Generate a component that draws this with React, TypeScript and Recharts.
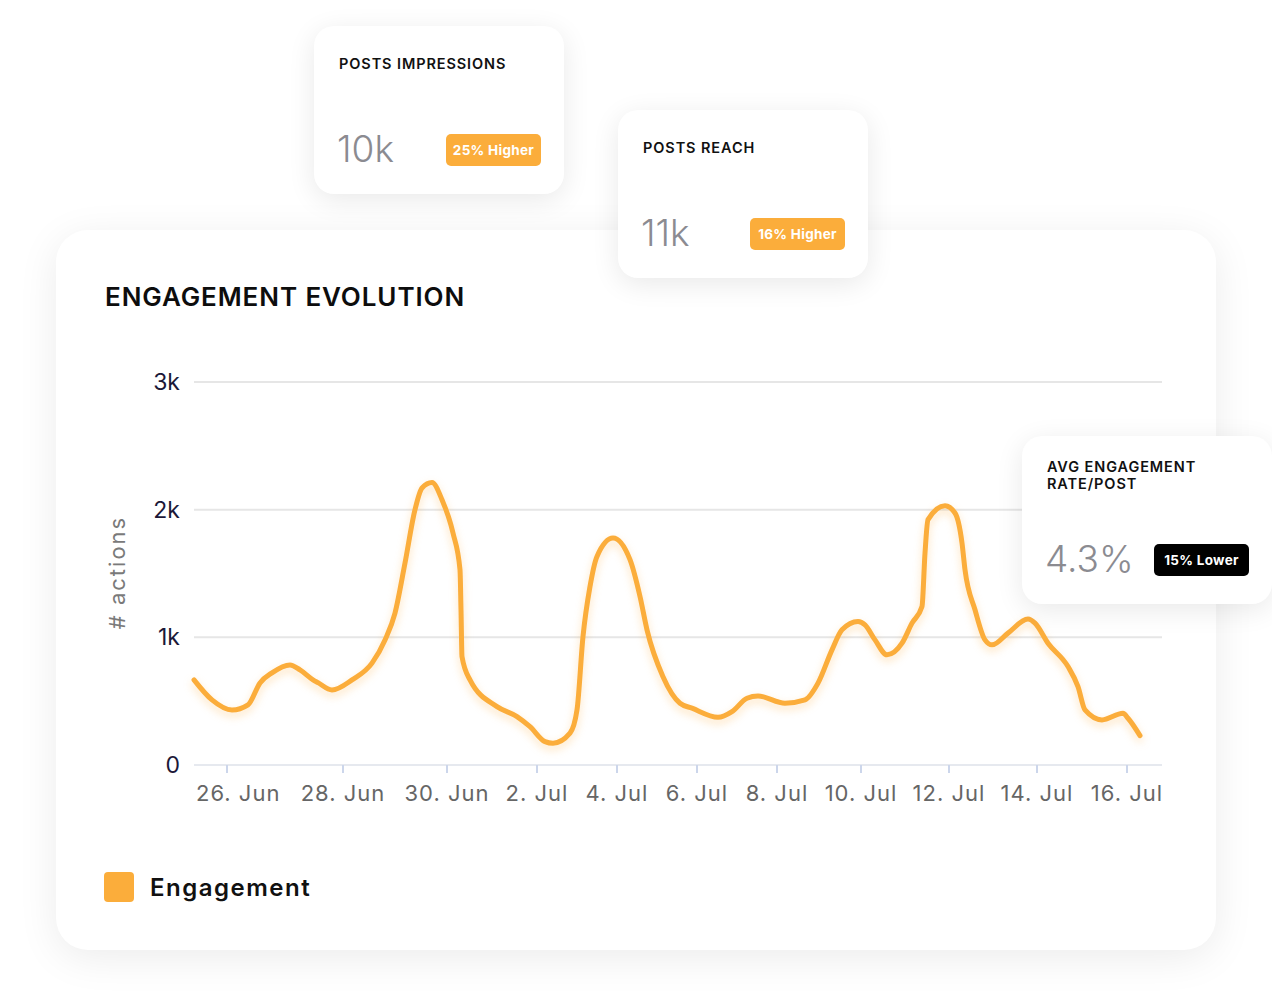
import React from "react";
import {
  CartesianGrid,
  Legend,
  Line,
  LineChart,
  XAxis,
  YAxis,
} from "recharts";

// position along the time axis (axis units) and engagement value
const positions = [
  0, 18, 38, 54, 66, 78, 96, 106, 119, 124, 138, 158, 178, 191, 201, 211, 221,
  228, 238, 248, 259, 266, 267, 268, 276, 303, 323, 336, 351, 359, 376, 383,
  389, 396, 403, 419, 436, 446, 453, 469, 486, 498, 524, 538, 553, 564, 591,
  611, 624, 638, 648, 664, 671, 681, 693, 708, 718, 728, 731, 734, 751, 761,
  768, 771, 781, 791, 798, 814, 834, 841, 854, 874, 884, 891, 908, 929, 934,
  946,
];
const engagement = [
  667, 510, 431, 471, 643, 722, 784, 745, 667, 645, 588, 667, 798, 980, 1190,
  1582, 2000, 2170, 2212, 2078, 1817, 1529, 1216, 849, 667, 457, 379, 300, 183,
  170, 249, 431, 1006, 1398, 1634, 1778, 1608, 1320, 1059, 692, 484, 445, 374,
  418, 523, 541, 484, 510, 641, 902, 1059, 1124, 1098, 980, 863, 954, 1111,
  1241, 1660, 1922, 2031, 1974, 1739, 1529, 1216, 980, 941, 1033, 1143, 1111,
  954, 771, 614, 431, 353, 405, 366, 230,
];

const dateTicks = [33, 149, 253, 343, 423, 503, 583, 667, 755, 843, 933];
const dateLabels = [
  "26. Jun",
  "28. Jun",
  "30. Jun",
  "2. Jul",
  "4. Jul",
  "6. Jul",
  "8. Jul",
  "10. Jul",
  "12. Jul",
  "14. Jul",
  "16. Jul",
];
const valueTicks = [0, 1000, 2000, 3000];

const kpiTitles = ["POSTS IMPRESSIONS", "POSTS REACH", "AVG ENGAGEMENT RATE/POST"];
const kpiValues = ["10k", "11k", "4.3%"];
const kpiBadges = ["25% Higher", "16% Higher", "15% Lower"];

const data = positions.map((t, i) => ({ t, engagement: engagement[i] }));

const ORANGE = "#fbad3b";
const FONT = "Inter, 'Noto Sans', sans-serif";

function DateTick(props: any) {
  const { x, y, payload, index } = props;
  const label = dateLabels[dateTicks.indexOf(payload.value)];
  // first label is pushed right so it does not stick out past the plot
  const first = index === 0;
  return (
    <text
      x={first ? x - 31 : x}
      y={y}
      dy="0.74em"
      textAnchor={first ? "start" : "middle"}
      fill="#666666"
      fontSize={22}
      letterSpacing={1}
      fontFamily={FONT}
    >
      {label}
    </text>
  );
}

function ActionsLabel(props: any) {
  const { viewBox } = props;
  const cx = viewBox.x - 17;
  const cy = viewBox.y + viewBox.height / 2 - 1;
  return (
    <text
      x={cx}
      y={cy}
      transform={`rotate(-90 ${cx} ${cy})`}
      textAnchor="middle"
      dominantBaseline="central"
      fill="#7a7a7a"
      fontSize={22}
      letterSpacing={2}
      fontFamily={FONT}
    >
      # actions
    </text>
  );
}

function LegendContent() {
  return (
    <div style={{ display: "flex", alignItems: "center", fontFamily: FONT }}>
      <div
        style={{
          width: 30,
          height: 30,
          borderRadius: 4,
          background: ORANGE,
          marginRight: 16,
        }}
      />
      <span
        style={{ fontSize: 24, fontWeight: 600, color: "#111", letterSpacing: 1.5 }}
      >
        Engagement
      </span>
    </div>
  );
}

function KpiCard(props: { i: number; left: number; top: number; dark?: boolean }) {
  const { i, left, top, dark } = props;
  const twoLines = i === 2;
  return (
    <div
      style={{
        position: "absolute",
        left,
        top,
        width: 250,
        height: 168,
        background: "#fff",
        borderRadius: 20,
        boxShadow: "0 6px 28px rgba(0,0,0,0.09)",
      }}
    >
      <div
        style={{
          position: "absolute",
          left: 25,
          top: twoLines ? 22 : 29,
          width: 215,
          fontSize: 14.5,
          lineHeight: "17px",
          fontWeight: 600,
          color: "#111",
          letterSpacing: 0.9,
        }}
      >
        {twoLines ? (
          <>
            AVG ENGAGEMENT
            <br />
            RATE/POST
          </>
        ) : (
          kpiTitles[i]
        )}
      </div>
      <div
        style={{
          position: "absolute",
          left: 23,
          top: 104,
          fontSize: 37,
          lineHeight: 1,
          fontWeight: 300,
          color: "#8b8b91",
        }}
      >
        {kpiValues[i]}
      </div>
      <div
        style={{
          position: "absolute",
          left: 132,
          top: 108,
          width: 95,
          height: 32,
          borderRadius: 5,
          background: dark ? "#000" : ORANGE,
          color: "#fff",
          fontSize: 13.5,
          fontWeight: 700,
          letterSpacing: 0.3,
          display: "flex",
          alignItems: "center",
          justifyContent: "center",
        }}
      >
        {kpiBadges[i]}
      </div>
    </div>
  );
}

export default function App() {
  return (
    <div
      style={{
        position: "absolute",
        left: 0,
        top: 0,
        width: 1272,
        height: 1008,
        overflow: "hidden",
        background: "#fff",
        fontFamily: FONT,
      }}
    >
      <style>{`.eng-line { filter: drop-shadow(0px 4px 4px rgba(251,173,59,0.35)); }`}</style>

      <div
        style={{
          position: "absolute",
          left: 56,
          top: 230,
          width: 1160,
          height: 720,
          background: "#fff",
          borderRadius: 32,
          boxShadow: "0 8px 40px rgba(0,0,0,0.08)",
        }}
      >
        <div
          style={{
            position: "absolute",
            left: 49,
            top: 54,
            fontSize: 26,
            lineHeight: 1,
            fontWeight: 600,
            color: "#0d0d0d",
            letterSpacing: 0.9,
          }}
        >
          ENGAGEMENT EVOLUTION
        </div>

        <div style={{ position: "absolute", left: 0, top: 0 }}>
          <LineChart
            width={1160}
            height={720}
            data={data}
            margin={{ top: 152, right: 54, left: 78, bottom: 135 }}
          >
            <CartesianGrid vertical={false} stroke="#e6e6e6" strokeWidth={2} />
            <XAxis
              dataKey="t"
              type="number"
              domain={[0, 968]}
              ticks={dateTicks}
              interval={0}
              height={50}
              axisLine={{ stroke: "#e6e9ef", strokeWidth: 2 }}
              tickLine={{ stroke: "#ccd6eb", strokeWidth: 2 }}
              tickSize={8}
              tickMargin={12}
              tick={<DateTick />}
            />
            <YAxis
              type="number"
              domain={[0, 3000]}
              ticks={valueTicks}
              width={60}
              axisLine={false}
              tickLine={false}
              tickSize={6}
              tickMargin={8}
              tick={{ fill: "#1b1838", fontSize: 23, fontFamily: FONT }}
              tickFormatter={(v) => (v === 0 ? "0" : `${v / 1000}k`)}
              label={<ActionsLabel />}
            />
            <Legend
              layout="horizontal"
              verticalAlign="middle"
              align="center"
              content={<LegendContent />}
              wrapperStyle={{ left: 48, top: 642, width: "auto", height: "auto" }}
            />
            <Line
              className="eng-line"
              type="monotone"
              dataKey="engagement"
              name="Engagement"
              stroke={ORANGE}
              strokeWidth={5}
              strokeLinecap="round"
              strokeLinejoin="round"
              dot={false}
              activeDot={false}
              isAnimationActive={false}
            />
          </LineChart>
        </div>
      </div>

      <KpiCard i={0} left={314} top={26} />
      <KpiCard i={1} left={618} top={110} />
      <KpiCard i={2} left={1022} top={436} dark />
    </div>
  );
}
